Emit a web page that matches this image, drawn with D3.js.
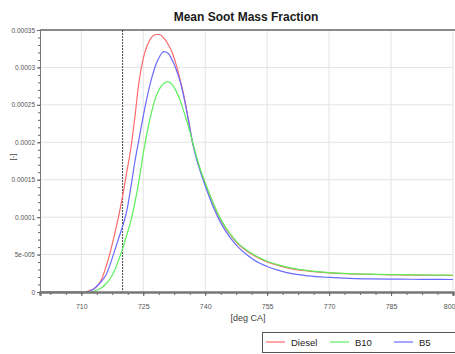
<!DOCTYPE html>
<html>
<head>
<meta charset="utf-8">
<script src="https://cdn.jsdelivr.net/npm/d3@7"></script>
<style>
  body { margin: 0; background: #fff; }
  svg { display: block; }
</style>
</head>
<body>
<svg id="chart" width="455" height="354"></svg>
<script>
// crank angle grid [deg CA]
const crankAngle = [700, 710, 711, 712, 713, 714, 715, 716, 717, 718, 719, 720, 721, 722, 723, 724, 725,
  726, 727, 728, 729, 730, 731, 732, 733, 734, 735, 736, 737, 738, 739, 740, 742, 744, 746, 748,
  750, 752, 755, 758, 761, 765, 770, 775, 780, 785, 790, 795, 800];

const diesel = [0, 0, 0, 0.000002, 0.000004, 0.000009, 0.000018, 0.000034, 0.000053, 0.000076, 0.0001, 0.000128, 0.00016, 0.000192, 0.000235, 0.000282, 0.000312,
  0.00033, 0.00034, 0.000344, 0.000344, 0.000339, 0.000331, 0.00032, 0.000303, 0.000282, 0.000258, 0.000228, 0.000198, 0.000177, 0.00016, 0.000145, 0.000117, 0.000094, 0.000077, 0.000064,
  0.000055, 0.000048, 0.00004, 0.000035, 0.000031, 0.000028, 0.0000255, 0.0000242, 0.0000235, 0.000023, 0.0000226, 0.0000223, 0.0000221];

const b10 = [0, 0, 0, 0, 0.000001, 0.000003, 0.000006, 0.000011, 0.000018, 0.000028, 0.000042, 0.000058, 0.000076, 0.000095, 0.00012, 0.00015, 0.000185,
  0.000215, 0.00024, 0.00026, 0.000272, 0.000279, 0.000281, 0.000277, 0.000268, 0.000255, 0.000238, 0.00022, 0.000199, 0.000179, 0.000161, 0.000146, 0.000118, 0.000095, 0.000078, 0.000065,
  0.000056, 0.000049, 0.000041, 0.0000358, 0.0000318, 0.0000285, 0.000026, 0.0000246, 0.0000238, 0.0000233, 0.0000229, 0.0000226, 0.0000224];

const b5 = [0, 0, 0, 0.000001, 0.000004, 0.000009, 0.000015, 0.000023, 0.000037, 0.000054, 0.000071, 0.000088, 0.000108, 0.00014, 0.000175, 0.000205, 0.000235,
  0.000262, 0.000285, 0.000303, 0.000315, 0.000321, 0.000319, 0.00031, 0.000297, 0.00028, 0.000256, 0.000228, 0.000198, 0.000176, 0.000158, 0.000142, 0.000113, 0.00009, 0.000073, 0.00006,
  0.00005, 0.000042, 0.000034, 0.0000285, 0.0000245, 0.0000215, 0.0000195, 0.0000182, 0.0000175, 0.0000172, 0.000017, 0.0000168, 0.0000167];

const xTicks = [710, 725, 740, 755, 770, 785, 800];
const yTicks = [0, 0.00005, 0.0001, 0.00015, 0.0002, 0.00025, 0.0003, 0.00035];
const yTickLabels = ['0', '5e-005', '0.0001', '0.00015', '0.0002', '0.00025', '0.0003', '0.00035'];
const markerAngle = 720;

const seriesNames = ['Diesel', 'B10', 'B5'];
const seriesColors = ['#ff6a6a', '#5cf05c', '#6a6aff'];
const seriesValues = [diesel, b10, b5];

const svg = d3.select('#chart');
const margin = { top: 30, right: 2, bottom: 62, left: 40 };
const width = 455 - margin.left - margin.right;
const height = 354 - margin.top - margin.bottom;

const x = d3.scaleLinear().domain([700, 800]).range([margin.left, margin.left + width]);
const y = d3.scaleLinear().domain([0, 0.00035]).range([margin.top + height, margin.top]);

const font = '"Liberation Sans Narrow", "Liberation Sans", Arial, sans-serif';

// title
svg.append('text')
  .attr('x', 246)
  .attr('y', 21)
  .attr('text-anchor', 'middle')
  .attr('font-family', font)
  .attr('font-weight', 'bold')
  .attr('font-size', 12)
  .attr('fill', '#1a1a1a')
  .text('Mean Soot Mass Fraction');

// grid lines
const grid = svg.append('g');
grid.selectAll('line.gx')
  .data(xTicks)
  .enter()
  .append('line')
  .attr('x1', d => x(d)).attr('x2', d => x(d))
  .attr('y1', y(0)).attr('y2', y(0.00035))
  .attr('stroke', '#e4e4e4')
  .attr('stroke-width', 1);
grid.selectAll('line.gy')
  .data(yTicks.slice(1))
  .enter()
  .append('line')
  .attr('x1', x(700)).attr('x2', x(800))
  .attr('y1', d => y(d)).attr('y2', d => y(d))
  .attr('stroke', '#e4e4e4')
  .attr('stroke-width', 1);

// top border
svg.append('line')
  .attr('x1', x(700)).attr('x2', 455)
  .attr('y1', y(0.00035)).attr('y2', y(0.00035))
  .attr('stroke', '#8a8a8a')
  .attr('stroke-width', 2);

// dashed marker line
svg.append('line')
  .attr('x1', x(markerAngle)).attr('x2', x(markerAngle))
  .attr('y1', y(0.00035)).attr('y2', y(0))
  .attr('stroke', '#444')
  .attr('stroke-width', 1)
  .attr('stroke-dasharray', '2,1');

// curves
const line = d3.line()
  .x((d, i) => x(crankAngle[i]))
  .y(d => y(d))
  .curve(d3.curveMonotoneX);

const drawOrder = [0, 2, 1];
svg.append('g')
  .selectAll('path')
  .data(drawOrder)
  .enter()
  .append('path')
  .attr('d', i => line(seriesValues[i]))
  .attr('fill', 'none')
  .attr('stroke', i => seriesColors[i])
  .attr('stroke-width', 1.2);

// x axis
const xAxis = svg.append('g')
  .attr('transform', `translate(0,${y(0)})`)
  .call(d3.axisBottom(x)
    .tickValues(d3.range(702.5, 800.1, 3.75))
    .tickSize(3)
    .tickFormat(''));
xAxis.append('g')
  .call(d3.axisBottom(x).tickValues(xTicks).tickSize(4).tickPadding(8)
    .tickFormat(d3.format('d')));
xAxis.selectAll('.domain').attr('stroke', '#777').attr('stroke-width', 2);
xAxis.selectAll('line').attr('stroke', '#666');
xAxis.selectAll('text')
  .attr('font-family', font)
  .attr('font-size', 7)
  .attr('fill', '#555');
// keep the last label inside the frame
xAxis.selectAll('.tick text')
  .filter(d => d === 800)
  .attr('text-anchor', 'end')
  .attr('dx', 2);

// y axis
const yAxis = svg.append('g')
  .attr('transform', `translate(${x(700)},0)`)
  .call(d3.axisLeft(y)
    .tickValues(d3.range(0, 0.000351, 0.00001))
    .tickSize(2)
    .tickFormat(''));
yAxis.append('g')
  .call(d3.axisLeft(y).tickValues(yTicks).tickSize(3).tickPadding(2)
    .tickFormat((d, i) => yTickLabels[i]));
yAxis.selectAll('.domain').attr('stroke', '#777').attr('stroke-width', 1);
yAxis.selectAll('line').attr('stroke', '#666');
yAxis.selectAll('text')
  .attr('font-family', font)
  .attr('font-size', 6.5)
  .attr('fill', '#555');

// axis labels
svg.append('text')
  .attr('transform', 'translate(15,157) rotate(-90)')
  .attr('text-anchor', 'middle')
  .attr('font-family', font)
  .attr('font-size', 8)
  .attr('fill', '#444')
  .text('[-]');

svg.append('text')
  .attr('x', 248)
  .attr('y', 321)
  .attr('text-anchor', 'middle')
  .attr('font-family', font)
  .attr('font-size', 9)
  .attr('fill', '#444')
  .text('[deg CA]');

// legend
const legend = svg.append('g').attr('transform', 'translate(262,332)');
legend.append('rect')
  .attr('x', 0.5).attr('y', 0.5)
  .attr('width', 200).attr('height', 20)
  .attr('fill', '#fff')
  .attr('stroke', '#555')
  .attr('stroke-width', 1);

const legendX = [4, 68, 132];
const item = legend.selectAll('g.item')
  .data(seriesNames)
  .enter()
  .append('g')
  .attr('transform', (d, i) => `translate(${legendX[i]},10)`);
item.append('line')
  .attr('x1', 0).attr('x2', 19)
  .attr('stroke', (d, i) => seriesColors[i])
  .attr('stroke-width', 1.2);
item.append('text')
  .attr('x', 25)
  .attr('y', 3.5)
  .attr('font-family', font)
  .attr('font-size', 9.5)
  .attr('fill', '#222')
  .text(d => d);
</script>
</body>
</html>
